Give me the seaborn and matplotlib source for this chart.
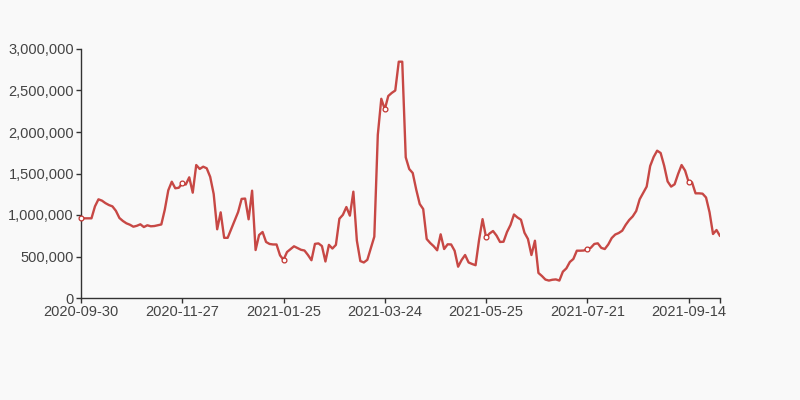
import matplotlib
matplotlib.use("Agg")
import matplotlib.pyplot as plt
import seaborn as sns
import pandas as pd
from matplotlib.ticker import FuncFormatter

# Values in thousands, one per category (roughly every second day)
values_k = [
    960, 960, 960, 960, 1104, 1189, 1173, 1143, 1120, 1104,
    1050, 964, 928, 900, 883, 859, 870, 888, 855, 876,
    864, 867, 877, 886, 1065, 1298, 1401, 1322, 1328, 1382,
    1367, 1454, 1269, 1602, 1555, 1582, 1563, 1459, 1253, 828,
    1032, 725, 725, 828, 928, 1036, 1194, 1198, 948, 1293,
    578, 759, 795, 675, 651, 645, 645, 514, 460, 554,
    588, 623, 602, 581, 572, 518, 455, 652, 658, 626,
    440, 640, 596, 640, 955, 1002, 1096, 992, 1281, 692,
    445, 428, 460, 600, 739, 1966, 2400, 2273, 2434, 2471,
    2500, 2847, 2847, 1695, 1554, 1506, 1307, 1133, 1072, 711,
    663, 624, 575, 767, 590, 647, 645, 569, 377, 458,
    518, 428, 410, 395, 700, 950, 731, 777, 807, 752,
    675, 678, 795, 880, 1006, 970, 943, 787, 711, 518,
    690, 302, 265, 222, 210, 220, 224, 210, 317, 357,
    434, 470, 570, 570, 572, 590, 605, 651, 659, 604,
    590, 645, 723, 765, 783, 811, 882, 940, 983, 1048,
    1190, 1265, 1342, 1590, 1699, 1775, 1747, 1595, 1404, 1342,
    1370, 1494, 1602, 1535, 1400, 1392, 1261, 1261, 1257, 1211,
    1034, 771, 819, 747,
]
values = [v * 1000 for v in values_k]
tick_labels = ["2020-09-30", "2020-11-27", "2021-01-25", "2021-03-24",
               "2021-05-25", "2021-07-21", "2021-09-14"]
tick_step = 29

df = pd.DataFrame({"idx": range(len(values)), "value": values})
tick_idx = [i * tick_step for i in range(len(tick_labels))]

sns.set_theme(style="white")
plt.rcParams["font.family"] = ["Liberation Sans", "DejaVu Sans"]

bg = "#f9f9f9"
red = "#c23531"
axc = "#333333"

fig = plt.figure(figsize=(8, 4), dpi=100, facecolor=bg)
ax = fig.add_axes([81 / 800, 1 - 298 / 400, 639 / 800, 249 / 400])
ax.set_facecolor(bg)

sns.lineplot(data=df, x="idx", y="value", ax=ax, color=red, linewidth=1.7,
             alpha=0.9)
mk = df[df["idx"].isin(tick_idx)]
ax.scatter(mk["idx"], mk["value"], s=12, facecolor="white", edgecolor=red,
           linewidth=0.9, zorder=5, clip_on=False)

ax.set_xlim(0, len(values) - 1)
ax.set_ylim(0, 3_000_000)
ax.set_xticks(tick_idx + [len(values) - 1])
ax.set_xticklabels(tick_labels + [""])
ax.set_yticks(range(0, 3_000_001, 500_000))
ax.yaxis.set_major_formatter(FuncFormatter(lambda v, p: f"{int(v):,}"))
ax.set_xlabel("")
ax.set_ylabel("")

for s in ["top", "right"]:
    ax.spines[s].set_visible(False)
for s in ["left", "bottom"]:
    ax.spines[s].set_color(axc)
    ax.spines[s].set_linewidth(1)
ax.tick_params(axis="both", direction="out", length=3.6, width=1, color=axc,
               labelcolor="#444444", labelsize=10.5, pad=1.5)
ax.tick_params(axis="x", pad=1.5)
ax.tick_params(left=True, bottom=True)
ax.grid(False)

fig.savefig("out.png", dpi=100, facecolor=bg)
